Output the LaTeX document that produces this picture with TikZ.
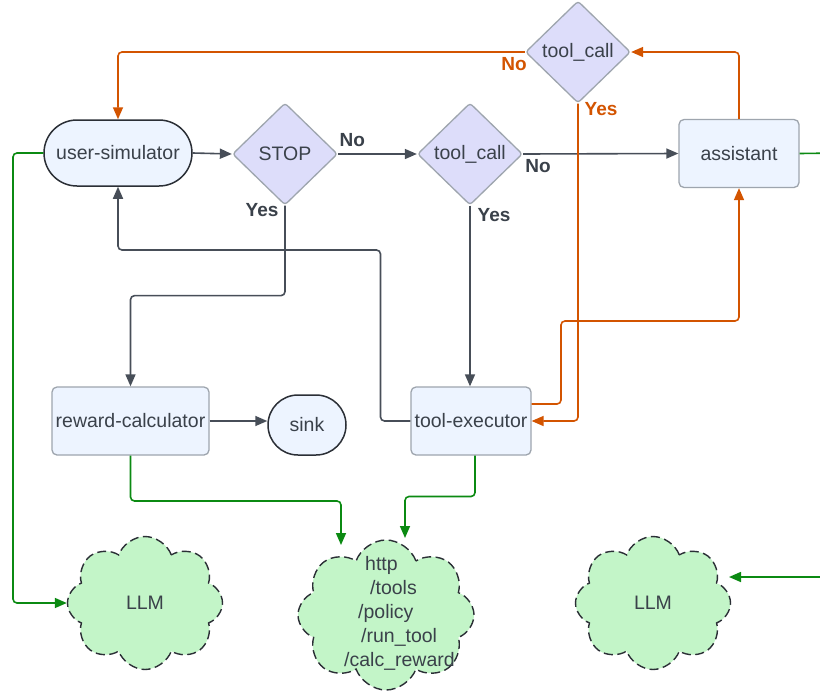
\documentclass[tikz,border=0pt]{standalone}
\usepackage{fontspec}
\setmainfont{Liberation Sans}
\usetikzlibrary{shapes.geometric,shapes.symbols,shapes.misc,arrows.meta}
\definecolor{boxfill}{HTML}{EDF4FF}
\definecolor{boxdraw}{HTML}{9EA5AE}
\definecolor{dmfill}{HTML}{DDDDFA}
\definecolor{stdraw}{HTML}{2B2F36}
\definecolor{cloudfill}{HTML}{C3F5C8}
\definecolor{darkline}{HTML}{474E58}
\definecolor{orng}{HTML}{D35400}
\definecolor{grn}{HTML}{0B8A12}
\definecolor{txt}{HTML}{3A414A}
\tikzset{
  base/.style={font=\fontsize{19.5}{24}\selectfont, text=txt, inner sep=1pt},
  procbox/.style={base, draw=boxdraw, fill=boxfill, line width=1.3pt, rounded corners=5pt, minimum width=#1, minimum height=68pt},
  stadium/.style={base, draw=stdraw, fill=boxfill, line width=1.5pt, rounded rectangle, minimum width=#1, minimum height=66pt},
  decide/.style={base, diamond, draw=boxdraw, fill=dmfill, line width=1.3pt, minimum width=105pt, minimum height=102pt, inner sep=0pt, rounded corners=3pt},
  cloudy/.style={base, cloud, cloud puffs=8, cloud puff arc=140, draw=stdraw, fill=cloudfill, line width=1.4pt, dash pattern=on 9pt off 4.5pt, minimum width=#1, aspect=1.15},
  conn/.style={line width=1.6pt, rounded corners=4pt, -{Triangle[length=12pt,width=10pt]}},
  dk/.style={conn, draw=darkline},
  og/.style={conn, draw=orng},
  gr/.style={conn, draw=grn},
  lbl/.style={font=\fontsize{19}{22}\selectfont\bfseries, text=#1, inner sep=0pt},
}
\begin{document}
\begin{tikzpicture}[x=1pt,y=-1pt]
\useasboundingbox[fill=white] (0,0) rectangle (820,694);
% nodes
\node[stadium=150pt] (us) at (118,153) {user-simulator};
\node[decide] (stop) at (285,154) {STOP};
\node[decide] (tc1) at (470,154) {tool\_call};
\node[decide] (tc2) at (578,52) {tool\_call};
\node[procbox=120pt] (as) at (739,153.5) {assistant};
\node[procbox=157pt] (rc) at (130.5,421) {reward-calculator};
\node[stadium=80pt, minimum height=60pt] (sink) at (307,425) {sink};
\node[procbox=120pt] (te) at (471,421) {tool-executor};
\node[cloudy=155pt, minimum height=133pt] (llm1) at (145,603) {LLM};
\node[cloudy=176pt, minimum height=150pt] (http) at (386,615) {};
\node[base, align=left, anchor=west] (httptxt) at (343,613) {\hspace*{21pt}http\\\hspace*{26pt}/tools\\\hspace*{14pt}/policy\\\hspace*{17pt}/run\_tool\\/calc\_reward};
\node[cloudy=155pt, minimum height=133pt] (llm2) at (653,603) {LLM};
% helper coordinates
\coordinate (httpin1) at (341,545);
\coordinate (httpin2) at (405,538);
\coordinate (llm2in) at (729,577);
\coordinate (offright) at (840,153);
% dark connectors
\draw[dk] (us.east) -- (stop.west);
\draw[dk] (stop.east) -- node[lbl=txt, above=7pt, pos=0.18] (no1) {No} (tc1.west);
\draw[dk] (stop.south) -- ++(0,90) -| (rc.north);
\node[lbl=txt] (yes1) at (262,210) {Yes};
\draw[dk] (tc1.east) -- (as.west);
\node[lbl=txt] (no2) at (538,166) {No};
\draw[dk] (tc1.south) -- (tc1.south |- te.north);
\node[lbl=txt] (yes2) at (494,215) {Yes};
\draw[dk] (te.west) -- (380.5,421) -- (380.5,250) -| (us.south);
\draw[dk] (rc.east) -- (rc.east -| sink.west);
% orange connectors
\draw[og] (as.north) |- (tc2.east);
\draw[og] (tc2.west) -| (us.north);
\node[lbl=orng] (no3) at (514,64) {No};
\draw[og] (tc2.south) |- (te.east);
\node[lbl=orng] (yes3) at (601,109) {Yes};
\draw[og] ([yshift=17pt]te.east) -| (561,321) -| (as.south);
% green connectors
\draw[gr] (us.west) -| (13,400) |- (llm1.west);
\draw[gr] (rc.south) |- (341,501) -- (httpin1);
\draw[gr] ([xshift=4pt]te.south) |- (405,496.5) -- (httpin2);
\draw[gr] (as.east) -- (offright) |- (llm2in);
\end{tikzpicture}
\end{document}
